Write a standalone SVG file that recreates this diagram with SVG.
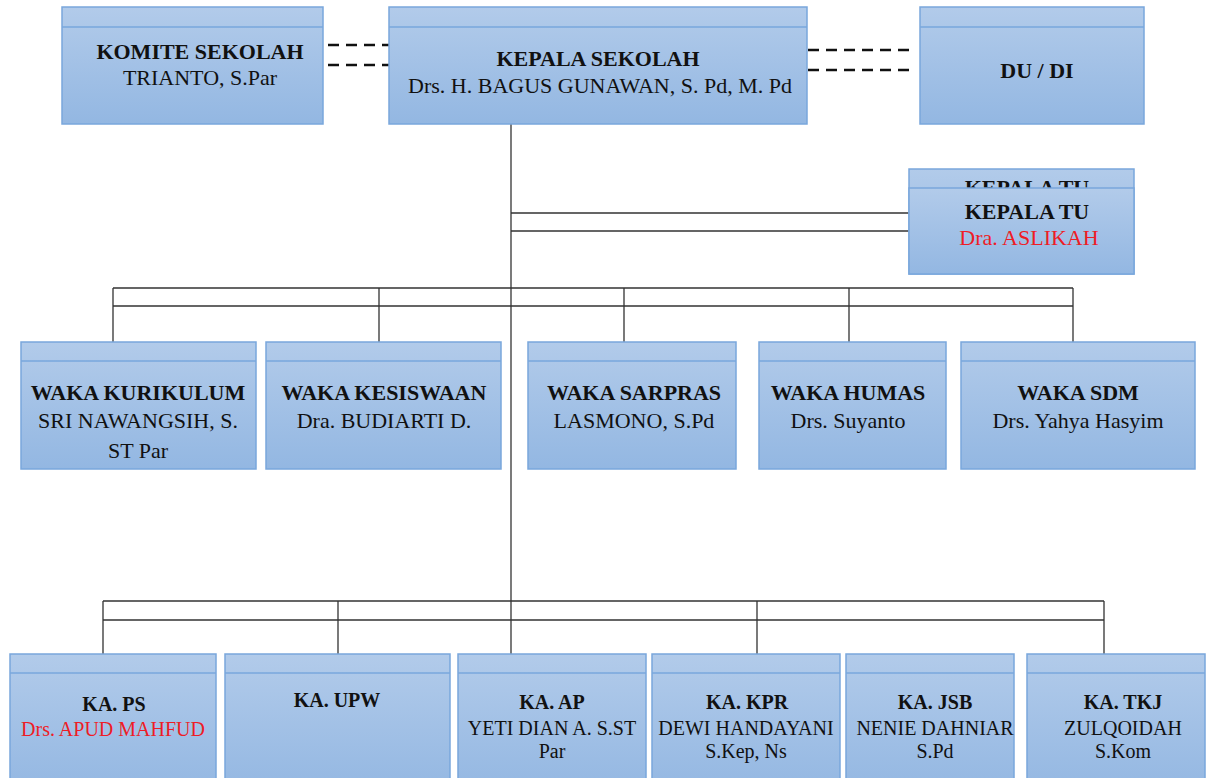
<svg xmlns="http://www.w3.org/2000/svg" width="1211" height="778" viewBox="0 0 1211 778">
<defs>
<linearGradient id="g" x1="0" y1="0" x2="0" y2="1">
<stop offset="0" stop-color="#b2cbea"/>
<stop offset="1" stop-color="#93b7e2"/>
</linearGradient>
<clipPath id="tuclip"><rect x="909" y="169" width="225" height="19"/></clipPath>
<style>
.box{fill:url(#g);stroke:#79a7dc;stroke-width:1.5}
.hd{stroke:#79a7dc;stroke-width:1.5;fill:none}
.t{font-family:"Liberation Serif","Times New Roman",serif;font-size:22px;fill:#111;text-anchor:middle}
.s{font-size:20px}
.b{font-weight:bold}
.r{fill:#ee1c25}
.ln{stroke:#333;stroke-width:1.3;fill:none}
.ds{stroke:#111;stroke-width:2.5;stroke-dasharray:11 7;fill:none}
</style>
</defs>
<rect width="1211" height="778" fill="#fff"/>

<g id="connectors">
<path class="ds" d="M328 45H389M328 65H389"/>
<path class="ds" d="M808 50H914M808 70H914"/>
<path class="ln" d="M511 124V673"/>
<path class="ln" d="M511 213H909M511 231H909"/>
<path class="ln" d="M113 288H1073M113 306H1073"/>
<path class="ln" d="M113 288V361M379 288V361M624 288V361M849 288V361M1073 288V361"/>
<path class="ln" d="M103 601H1104M103 620H1104"/>
<path class="ln" d="M103 601V673M338 601V673M757 601V673M1104 601V673"/>
</g>

<g id="komite">
<rect class="box" x="62" y="7" width="261" height="117"/>
<path class="hd" d="M62 27H323"/>
<text class="t b" x="200" y="59">KOMITE SEKOLAH</text>
<text class="t" x="200" y="85">TRIANTO, S.Par</text>
</g>

<g id="kepala-sekolah">
<rect class="box" x="389" y="7" width="418" height="117"/>
<path class="hd" d="M389 27H807"/>
<text class="t b" x="598" y="66">KEPALA SEKOLAH</text>
<text class="t" x="600" y="93">Drs. H. BAGUS GUNAWAN, S. Pd, M. Pd</text>
</g>

<g id="dudi">
<rect class="box" x="920" y="7" width="224" height="117"/>
<path class="hd" d="M920 27H1144"/>
<text class="t b" x="1037" y="78">DU / DI</text>
</g>

<g id="kepala-tu">
<rect class="box" x="909" y="169" width="225" height="105"/>
<text class="t b" x="1027" y="195" clip-path="url(#tuclip)">KEPALA TU</text>
<rect class="box" x="909" y="188" width="225" height="86"/>
<text class="t b" x="1027" y="219">KEPALA TU</text>
<text class="t r" x="1029" y="245">Dra. ASLIKAH</text>
</g>

<g id="waka-kurikulum">
<rect class="box" x="21" y="342" width="235" height="127"/>
<path class="hd" d="M21 361H256"/>
<text class="t b" x="138" y="400">WAKA KURIKULUM</text>
<text class="t" x="138" y="428">SRI NAWANGSIH, S.</text>
<text class="t" x="138" y="458">ST Par</text>
</g>

<g id="waka-kesiswaan">
<rect class="box" x="266" y="342" width="235" height="127"/>
<path class="hd" d="M266 361H501"/>
<text class="t b" x="384" y="400">WAKA KESISWAAN</text>
<text class="t" x="384" y="428">Dra. BUDIARTI D.</text>
</g>

<g id="waka-sarpras">
<rect class="box" x="528" y="342" width="208" height="127"/>
<path class="hd" d="M528 361H736"/>
<text class="t b" x="634" y="400">WAKA SARPRAS</text>
<text class="t" x="634" y="428">LASMONO, S.Pd</text>
</g>

<g id="waka-humas">
<rect class="box" x="759" y="342" width="187" height="127"/>
<path class="hd" d="M759 361H946"/>
<text class="t b" x="848" y="400">WAKA HUMAS</text>
<text class="t" x="848" y="428">Drs. Suyanto</text>
</g>

<g id="waka-sdm">
<rect class="box" x="961" y="342" width="234" height="127"/>
<path class="hd" d="M961 361H1195"/>
<text class="t b" x="1078" y="400">WAKA SDM</text>
<text class="t" x="1078" y="428">Drs. Yahya Hasyim</text>
</g>

<g id="ka-ps">
<rect class="box" x="10" y="654" width="206" height="140"/>
<path class="hd" d="M10 673H216"/>
<text class="t s b" x="114" y="711">KA. PS</text>
<text class="t s r" x="113" y="736">Drs. APUD MAHFUD</text>
</g>

<g id="ka-upw">
<rect class="box" x="225" y="654" width="225" height="140"/>
<path class="hd" d="M225 673H450"/>
<text class="t s b" x="337" y="707">KA. UPW</text>
</g>

<g id="ka-ap">
<rect class="box" x="458" y="654" width="188" height="140"/>
<path class="hd" d="M458 673H646"/>
<text class="t s b" x="552" y="709">KA. AP</text>
<text class="t s" x="552" y="735">YETI DIAN A. S.ST</text>
<text class="t s" x="552" y="758">Par</text>
</g>

<g id="ka-kpr">
<rect class="box" x="652" y="654" width="188" height="140"/>
<path class="hd" d="M652 673H840"/>
<text class="t s b" x="747" y="709">KA. KPR</text>
<text class="t s" x="746" y="735">DEWI HANDAYANI</text>
<text class="t s" x="746" y="758">S.Kep, Ns</text>
</g>

<g id="ka-jsb">
<rect class="box" x="846" y="654" width="168" height="140"/>
<path class="hd" d="M846 673H1014"/>
<text class="t s b" x="935" y="709">KA. JSB</text>
<text class="t s" x="935" y="735">NENIE DAHNIAR</text>
<text class="t s" x="935" y="758">S.Pd</text>
</g>

<g id="ka-tkj">
<rect class="box" x="1027" y="654" width="178" height="140"/>
<path class="hd" d="M1027 673H1205"/>
<text class="t s b" x="1123" y="709">KA. TKJ</text>
<text class="t s" x="1123" y="735">ZULQOIDAH</text>
<text class="t s" x="1123" y="758">S.Kom</text>
</g>
</svg>
